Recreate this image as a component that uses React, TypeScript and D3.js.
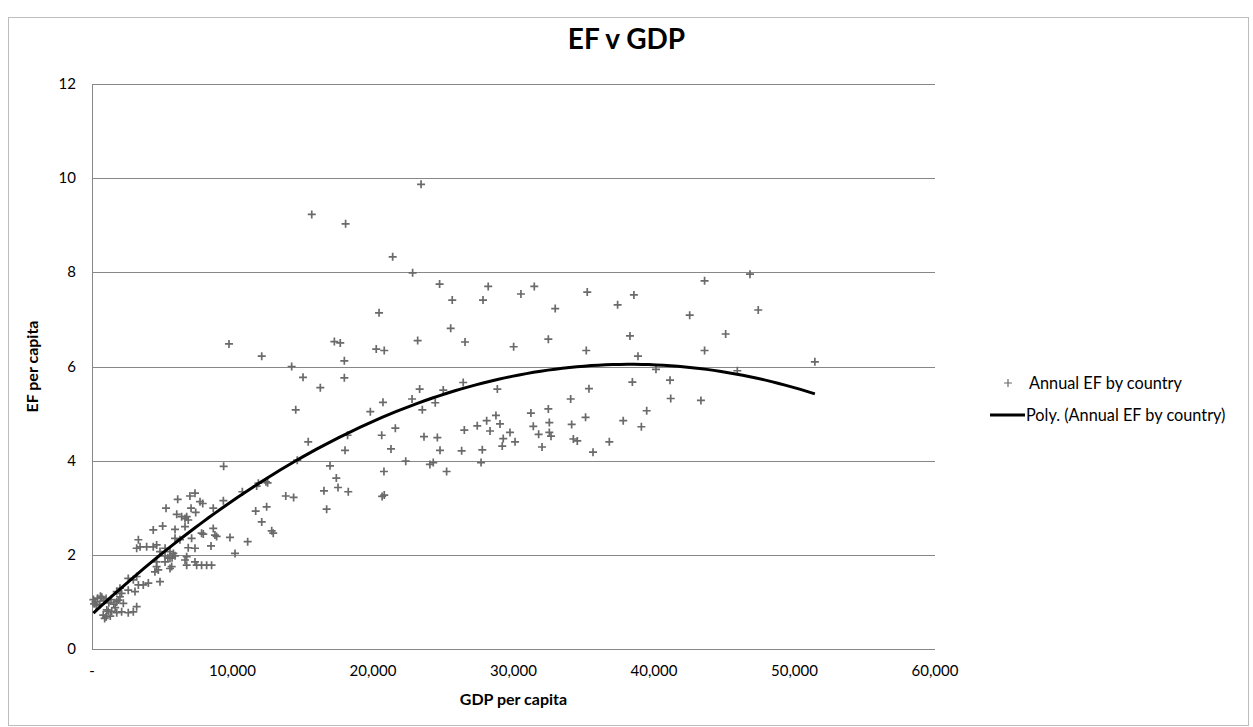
import React from "react";
import * as d3 from "d3";

// Scatter data: GDP per capita and EF per capita
const gdp: number[] = [
  15640, 18050, 23420, 21400, 22820, 24740, 28200, 25640, 27830, 30530,
  31480, 32970, 35250, 37410, 38570, 42540, 43600, 46830, 47420, 45100,
  43600, 45930, 51450, 43340, 30010, 32480, 35180, 38290, 38860, 40140,
  38460, 41140, 41190, 28850, 35370, 34070, 39480, 37810, 39100, 35130,
  34140, 36820, 35660, 34260, 34540, 32480, 32550, 31240, 31410, 31790,
  32550, 32670, 32030, 28750, 29040, 28090, 28330, 29750, 29270, 30110,
  29200, 27780, 27690, 20430, 25530, 26550, 23180, 17250, 17670, 20230,
  20800, 12080, 14210, 17960, 17960, 15020, 16250, 14500, 19810, 20710,
  23320, 22780, 23510, 24430, 25000, 26420, 27420, 26500, 21590, 20620,
  23630, 24580, 21280, 24770, 26310, 18010, 15390, 18190, 22330, 24050,
  24290, 20780, 25240, 16940, 17390, 17510, 16510, 18240, 20800, 20650,
  14610, 12380, 11840, 13790, 14350, 9750, 9370, 10700, 11720, 12500,
  11650, 12430, 6100, 5270, 6970, 7330, 7690, 7880, 7050, 7380,
  6030, 6380, 6740, 8630, 9350, 12080, 6620, 6850, 6620, 5910,
  5030, 4360, 5910, 6260, 7090, 7800, 7920, 8630, 8750, 8870,
  9820, 11080, 8470, 10180, 7330, 6850, 3300, 3420, 3890, 4360,
  4600, 3180, 5200, 5550, 4840, 5200, 5400, 5700, 5910, 5790,
  5550, 5200, 6620, 6740, 7330, 6740, 7450, 7800, 8160, 8510,
  4600, 4600, 4480, 4720, 5550, 5670, 4840, 4010, 3650, 3300,
  3180, 2940, 2580, 2580, 3060, 1990, 2110, 1760, 1870, 1990,
  2230, 2580, 2110, 1760, 3180, 2940, 100, 250, 400, 550,
  700, 850, 1000, 1200, 300, 600, 1350, 150, 800, 900,
  1150, 1050, 1300, 1400, 1000, 1550, 1650, 1750, 12790, 12900,
  16700,
];

const ef: number[] = [
  9.23, 9.03, 9.87, 8.33, 7.99, 7.75, 7.70, 7.41, 7.41, 7.54,
  7.70, 7.23, 7.58, 7.31, 7.52, 7.09, 7.82, 7.96, 7.20, 6.69,
  6.34, 5.91, 6.10, 5.28, 6.42, 6.58, 6.34, 6.65, 6.22, 5.94,
  5.67, 5.71, 5.32, 5.52, 5.53, 5.31, 5.06, 4.85, 4.72, 4.92,
  4.77, 4.40, 4.18, 4.46, 4.42, 5.10, 4.81, 5.01, 4.73, 4.56,
  4.60, 4.52, 4.29, 4.96, 4.78, 4.85, 4.63, 4.60, 4.47, 4.40,
  4.31, 4.23, 3.96, 7.14, 6.81, 6.52, 6.55, 6.53, 6.50, 6.37,
  6.34, 6.22, 6.00, 6.12, 5.76, 5.77, 5.55, 5.08, 5.04, 5.24,
  5.52, 5.31, 5.08, 5.23, 5.50, 5.66, 4.74, 4.65, 4.69, 4.54,
  4.51, 4.49, 4.25, 4.22, 4.21, 4.22, 4.40, 4.54, 3.99, 3.92,
  3.96, 3.77, 3.77, 3.89, 3.63, 3.43, 3.36, 3.34, 3.27, 3.24,
  4.01, 3.55, 3.52, 3.25, 3.22, 6.48, 3.88, 3.34, 3.46, 3.53,
  2.93, 3.02, 3.18, 2.99, 3.25, 3.31, 3.13, 3.09, 2.99, 2.90,
  2.86, 2.81, 2.81, 2.99, 3.15, 2.70, 2.77, 2.74, 2.60, 2.54,
  2.61, 2.53, 2.35, 2.32, 2.35, 2.46, 2.44, 2.56, 2.42, 2.39,
  2.37, 2.28, 2.19, 2.03, 2.14, 2.15, 2.32, 2.17, 2.17, 2.17,
  2.21, 2.14, 2.14, 2.07, 2.07, 1.98, 1.94, 1.94, 1.98, 2.03,
  1.93, 1.85, 1.89, 1.96, 1.85, 1.78, 1.78, 1.78, 1.78, 1.78,
  1.85, 1.75, 1.64, 1.68, 1.71, 1.75, 1.43, 1.40, 1.36, 1.36,
  1.54, 1.47, 1.50, 1.25, 1.22, 1.29, 1.18, 1.22, 1.04, 1.11,
  0.97, 0.77, 0.79, 0.77, 0.90, 0.79, 1.05, 1.00, 1.08, 0.95,
  1.10, 1.02, 1.07, 0.98, 0.92, 1.12, 1.05, 0.96, 0.72, 0.65,
  0.80, 0.83, 0.70, 0.80, 0.68, 0.95, 0.88, 1.00, 2.51, 2.46,
  2.97,
];

const xTicks: number[] = [0, 10000, 20000, 30000, 40000, 50000, 60000];
const yTicks: number[] = [0, 2, 4, 6, 8, 10, 12];
const title = "EF v GDP";
const xTitle = "GDP per capita";
const yTitle = "EF per capita";
const seriesName = "Annual EF by country";
const trendName = "Poly. (Annual EF by country)";

// least-squares quadratic fit (Excel "Poly." order 2 trendline)
function fitQuadratic(xs: number[], ys: number[]): [number, number, number] {
  const n = xs.length;
  const s = (k: number) => d3.sum(xs, (x) => Math.pow(x / 10000, k));
  const t = (k: number) => d3.sum(xs, (x, i) => Math.pow(x / 10000, k) * ys[i]);
  const A = [
    [n, s(1), s(2)],
    [s(1), s(2), s(3)],
    [s(2), s(3), s(4)],
  ];
  const b = [t(0), t(1), t(2)];
  for (let i = 0; i < 3; i++) {
    for (let j = i + 1; j < 3; j++) {
      const f = A[j][i] / A[i][i];
      for (let k = i; k < 3; k++) A[j][k] -= f * A[i][k];
      b[j] -= f * b[i];
    }
  }
  const c = [0, 0, 0];
  for (let i = 2; i >= 0; i--) {
    let v = b[i];
    for (let k = i + 1; k < 3; k++) v -= A[i][k] * c[k];
    c[i] = v / A[i][i];
  }
  return [c[0], c[1], c[2]];
}

const FONT = "Lato, 'Open Sans', sans-serif";
const GRID = "#878787";
const MARK = "#6a6a6a";

export default function App() {
  const W = 1253;
  const H = 727;
  const x = d3.scaleLinear().domain([0, 60000]).range([92, 935]);
  const y = d3.scaleLinear().domain([0, 12]).range([649, 84]);

  const [c0, c1, c2] = fitQuadratic(gdp, ef);
  const xMin = d3.min(gdp) as number;
  const xMax = d3.max(gdp) as number;
  const samples = d3.range(0, 101).map((i) => xMin + ((xMax - xMin) * i) / 100);
  const trend = samples.map((g) => {
    const u = g / 10000;
    return [g, c0 + c1 * u + c2 * u * u] as [number, number];
  });
  const line = d3
    .line<[number, number]>()
    .x((d) => x(d[0]))
    .y((d) => y(d[1]));

  const fmt = (v: number) => (v === 0 ? "-" : d3.format(",")(v));
  const plus = "M-4,0H4M0,-4V4";

  return (
    <svg
      width={W}
      height={H}
      style={{ position: "absolute", left: 0, top: 0, display: "block", background: "#fff" }}
      fontFamily={FONT}
    >
      <rect x={8.5} y={17.5} width={1240} height={708} fill="#fff" stroke="#bdbdbd" strokeWidth={1} />
      <text x={W / 2} y={49} textAnchor="middle" fontSize={28} fontWeight="bold" fill="#000">
        {title}
      </text>
      {yTicks.map((t) => (
        <g key={"y" + t}>
          {t > 0 && (
            <line x1={x(0)} x2={x(60000)} y1={Math.round(y(t)) + 0.5} y2={Math.round(y(t)) + 0.5} stroke={GRID} strokeWidth={1} />
          )}
          <text x={76} y={y(t) + 5} textAnchor="end" fontSize={15} fill="#000">
            {t}
          </text>
        </g>
      ))}
      <line x1={x(0) + 0.5} x2={x(0) + 0.5} y1={y(12)} y2={y(0)} stroke={GRID} strokeWidth={1} />
      <line x1={x(0)} x2={x(60000)} y1={Math.round(y(0)) + 0.5} y2={Math.round(y(0)) + 0.5} stroke={GRID} strokeWidth={1} />
      {xTicks.map((t) => (
        <text key={"x" + t} x={x(t)} y={676} textAnchor="middle" fontSize={15} fill="#000">
          {fmt(t)}
        </text>
      ))}
      <text x={(x(0) + x(60000)) / 2} y={705} textAnchor="middle" fontSize={16} fontWeight="bold" fill="#000">
        {xTitle}
      </text>
      <text
        transform={`translate(38,${(y(0) + y(12)) / 2}) rotate(-90)`}
        textAnchor="middle"
        fontSize={16}
        fontWeight="bold"
        fill="#000"
      >
        {yTitle}
      </text>
      <g>
        {gdp.map((g, i) => (
          <path key={i} d={plus} transform={`translate(${x(g)},${y(ef[i])})`} stroke={MARK} strokeWidth={1.7} fill="none" />
        ))}
      </g>
      <path d={line(trend) || ""} fill="none" stroke="#000" strokeWidth={3} />
      <g>
        <path d={plus} transform="translate(1008,383)" stroke={MARK} strokeWidth={1.2} fill="none" />
        <text x={1029} y={388.5} fontSize={16.3} fill="#000">
          {seriesName}
        </text>
        <line x1={990} x2={1025} y1={415} y2={415} stroke="#000" strokeWidth={3} />
        <text x={1026} y={420.5} fontSize={16.3} fill="#000">
          {trendName}
        </text>
      </g>
    </svg>
  );
}
